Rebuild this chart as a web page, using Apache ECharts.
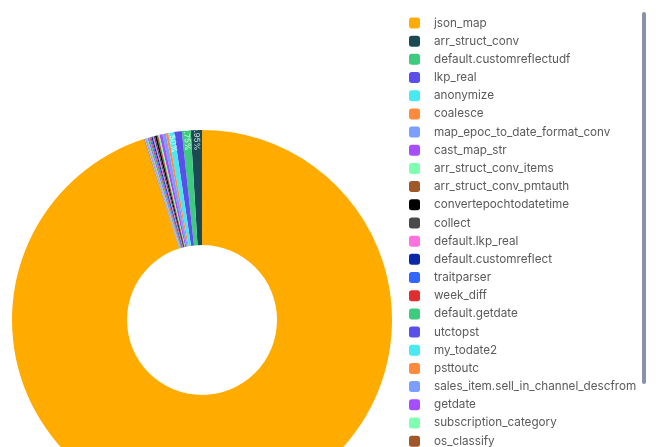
<!DOCTYPE html>
<html>
<head>
<meta charset="utf-8">
<script src="https://cdn.jsdelivr.net/npm/echarts@6/dist/echarts.min.js"></script>
<style>
  html, body { margin: 0; padding: 0; background: #ffffff; }
  #chart { width: 668px; height: 447px; }
</style>
</head>
<body>
<div id="chart"></div>
<script>
// Function usage share (percent of calls)
const names = [
  'json_map', 'arr_struct_conv', 'default.customreflectudf', 'lkp_real', 'anonymize',
  'coalesce', 'map_epoc_to_date_format_conv', 'cast_map_str', 'arr_struct_conv_items',
  'arr_struct_conv_pmtauth', 'convertepochtodatetime', 'collect', 'default.lkp_real',
  'default.customreflect', 'traitparser', 'week_diff', 'default.getdate', 'utctopst',
  'my_todate2', 'psttoutc', 'sales_item.sell_in_channel_descfrom', 'getdate',
  'subscription_category', 'os_classify'
];
const values = [
  95.05, 0.95, 0.75, 0.65, 0.50,
  0.20, 0.30, 0.25, 0.12,
  0.12, 0.14, 0.12, 0.10,
  0.10, 0.09, 0.08, 0.08, 0.07,
  0.06, 0.06, 0.06, 0.05,
  0.05, 0.05
];
const colors = [
  '#ffab00', '#1b4a55', '#3ccb7f', '#5b4fe9', '#48e9f0',
  '#ff8a3d', '#7b9fff', '#a64dff', '#7fffb0', '#a0572a',
  '#000000', '#4a4a4a', '#ff70e0', '#0a28a8', '#3366ff',
  '#e02e2e', '#3ccb7f', '#5b4fe9', '#48e9f0', '#ff8a3d',
  '#7b9fff', '#a64dff', '#7fffb0', '#a0572a'
];

const total = values.reduce((a, b) => a + b, 0);
// the big slice ends exactly at 12 o'clock; the rest fan out to its left
const startAngle = 90 + 360 * (total - values[0]) / total;

const pieData = names.map((n, i) => ({ name: n, value: values[i], itemStyle: { color: colors[i] } }));

const chart = echarts.init(document.getElementById('chart'), null, { renderer: 'canvas' });
chart.setOption({
  animation: false,
  backgroundColor: '#ffffff',
  legend: {
    type: 'plain',
    orient: 'vertical',
    left: 404,
    top: 12,
    height: 800,
    icon: 'roundRect',
    itemWidth: 11,
    itemHeight: 11,
    itemGap: 6.18,
    data: names,
    textStyle: {
      fontFamily: 'Inter',
      fontSize: 11.7,
      lineHeight: 12,
      color: '#5a5a5a',
      padding: [0, 0, 0, 9]
    }
  },
  graphic: [{
    type: 'rect',
    left: 642,
    top: 12,
    shape: { width: 4, height: 372, r: 2 },
    style: { fill: '#8a92ab' },
    silent: true
  }],
  series: [
    {
      type: 'pie',
      center: [202, 320],
      radius: [75, 190],
      clockwise: false,
      startAngle: startAngle,
      data: pieData,
      itemStyle: { borderWidth: 0 },
      minShowLabelAngle: 90,
      label: {
        show: true,
        position: 'inside',
        formatter: '{d}%',
        fontFamily: 'Inter',
        fontSize: 8,
        color: 'rgba(255,255,255,0.85)'
      },
      labelLine: { show: false },
      emphasis: { disabled: true }
    },
    {
      // thin transparent ring that carries the small-slice labels near the rim
      type: 'pie',
      center: [202, 320],
      radius: [168, 190],
      clockwise: false,
      startAngle: startAngle,
      silent: true,
      data: names.map((n, i) => ({ name: n, value: values[i] })),
      itemStyle: { color: 'rgba(0,0,0,0)' },
      minShowLabelAngle: 1.5,
      label: {
        show: true,
        position: 'inside',
        rotate: 'radial',
        formatter: (p) => p.dataIndex === 0 ? '' : p.percent.toFixed(2) + '%',
        fontFamily: 'Inter',
        fontSize: 8,
        color: 'rgba(255,255,255,0.8)'
      },
      labelLine: { show: false },
      emphasis: { disabled: true }
    }
  ]
});
</script>
</body>
</html>
